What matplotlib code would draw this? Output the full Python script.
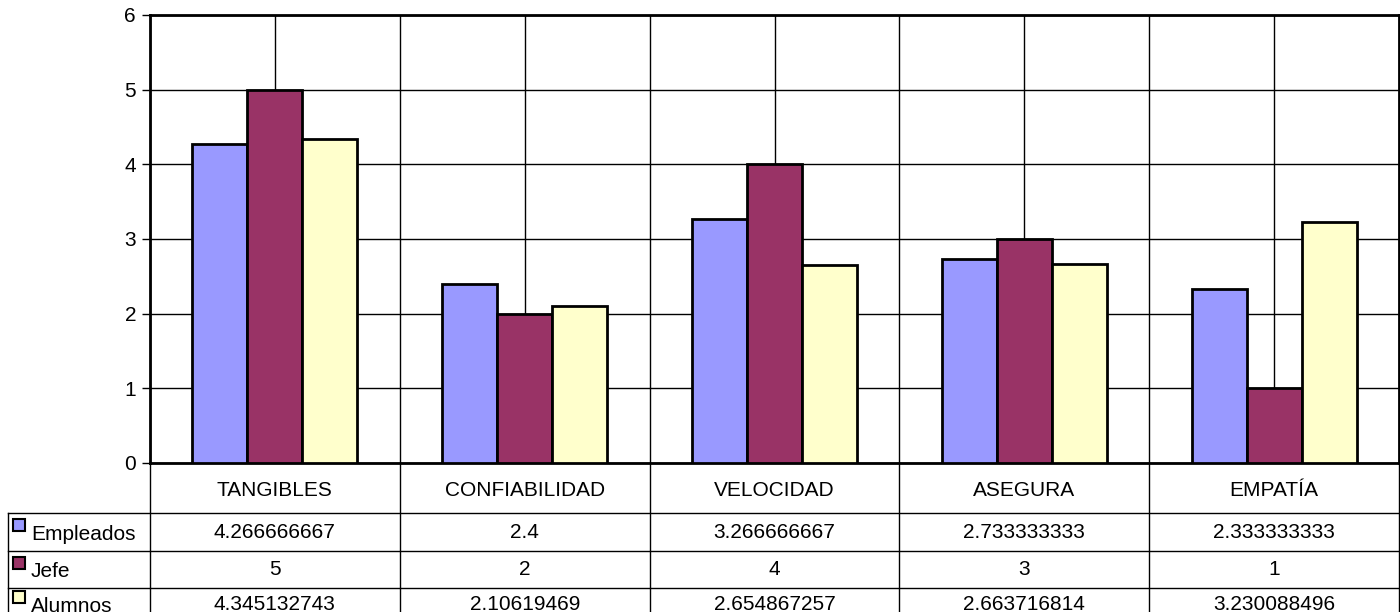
import numpy as np
import matplotlib.pyplot as plt
from matplotlib.patches import Rectangle

plt.rcParams['font.family'] = ['Liberation Sans', 'DejaVu Sans']

# -----------------------------
# Data
# -----------------------------
categories = ["TANGIBLES", "CONFIABILIDAD", "VELOCIDAD", "ASEGURA", "EMPATÍA"]
series_names = ["Empleados", "Jefe", "Alumnos"]
empleados = [4.266666667, 2.4, 3.266666667, 2.733333333, 2.333333333]
jefe = [5, 2, 4, 3, 1]
alumnos = [4.345132743, 2.10619469, 2.654867257, 2.663716814, 3.230088496]
series_vals = [empleados, jefe, alumnos]
colors = ["#9999FF", "#993366", "#FFFFCC"]

W, H = 1400, 612
fig = plt.figure(figsize=(W / 100, H / 100), dpi=100)

# plot area (pixel box)
x0, x1, ytop, ybot = 150, 1399, 15, 463
ax = fig.add_axes([x0 / W, 1 - ybot / H, (x1 - x0) / W, (ybot - ytop) / H])

n = len(categories)
x = np.arange(n)
bw = 0.22
for i, (vals, c) in enumerate(zip(series_vals, colors)):
    ax.bar(x + (i - 1) * bw, vals, width=bw, color=c, edgecolor="black",
           linewidth=2, zorder=3)

ax.set_xlim(-0.5, n - 0.5)
ax.set_ylim(0, 6)
ax.set_yticks(range(7))
ax.set_xticks(x)
ax.set_xticks(np.arange(n + 1) - 0.5, minor=True)
ax.grid(True, which="major", color="black", linewidth=1, zorder=0)
ax.grid(True, which="minor", axis="x", color="black", linewidth=1, zorder=0)
ax.tick_params(axis="x", which="both", length=0, labelbottom=False)
ax.tick_params(axis="y", length=6, width=1, labelsize=15, pad=4)
for s in ax.spines.values():
    s.set_linewidth(2)

# -----------------------------
# Data table below the plot
# -----------------------------
tab = fig.add_axes([0, 0, 1, 1])
tab.set_xlim(0, W)
tab.set_ylim(H, 0)
tab.axis("off")

col_w = (x1 - x0) / n
row_lines = [ybot, 513, 551, 588, 630]
lw = 1
# vertical lines
for k in range(n + 1):
    xx = x0 + k * col_w
    tab.plot([xx, xx], [ybot, H], color="black", lw=lw)
tab.plot([8, 8], [row_lines[1], H], color="black", lw=lw)
# horizontal lines
for yy in row_lines[1:4]:
    tab.plot([8, x1], [yy, yy], color="black", lw=lw)

fs = 15
for k, cat in enumerate(categories):
    tab.text(x0 + (k + 0.5) * col_w, (row_lines[0] + row_lines[1]) / 2 + 2, cat,
             ha="center", va="center", fontsize=fs)

for r, (name, vals, c) in enumerate(zip(series_names, series_vals, colors)):
    ya, yb = row_lines[r + 1], row_lines[r + 2]
    yc = (ya + min(yb, 620)) / 2
    tab.add_patch(Rectangle((13, yc - 13), 12, 12, facecolor=c,
                            edgecolor="black", lw=1.5))
    tab.text(31, yc + 2, name, ha="left", va="center", fontsize=fs)
    for k, v in enumerate(vals):
        tab.text(x0 + (k + 0.5) * col_w, yc, f"{v:.10g}",
                 ha="center", va="center", fontsize=fs)

fig.savefig("out.png", dpi=100)
